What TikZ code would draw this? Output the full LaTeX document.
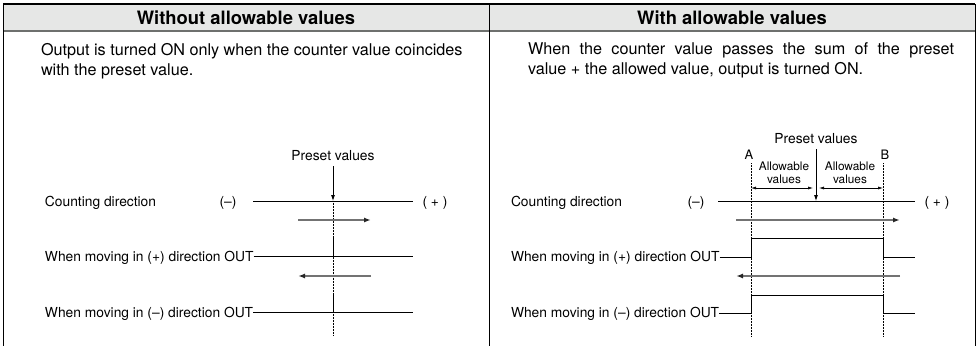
\documentclass[tikz,border=0pt]{standalone}
\usepackage{fontspec}
\setmainfont{TeX Gyre Heros}
\usetikzlibrary{positioning,arrows.meta}
\definecolor{headgray}{RGB}{230,231,230}
\definecolor{rulegray}{RGB}{110,112,110}
\definecolor{dirgray}{RGB}{115,115,115}

\begin{document}
\begin{tikzpicture}[x=1pt, y=-1pt,
  every node/.style={inner sep=0pt, outer sep=0pt, font=\fontsize{13.8}{16}\selectfont},
  headtxt/.style={font=\fontsize{18.4}{20}\selectfont\bfseries},
  bodytxt/.style={font=\fontsize{16.2}{20}\selectfont, anchor=north west, align=left},
  lbl/.style={anchor=west},
  allow/.style={font=\fontsize{11.8}{13}\selectfont, align=center},
  sig/.style={line width=0.9pt},
  dirarr/.style={draw=dirgray, line width=1.5pt, -{Latex[length=7pt,width=5pt,color=black!85]}},
  prearr/.style={line width=0.8pt, -{Latex[length=6pt,width=4pt]}},
  guide/.style={densely dotted, line width=0.5pt},
  dimarr/.style={line width=0.6pt, {Latex[length=5pt,width=3pt]}-{Latex[length=5pt,width=3pt]}}
]
\useasboundingbox (0,0) rectangle (978,346);

% =================== table ===================
\fill[headgray] (3,4) rectangle (975,31);
\draw[rulegray, line width=2pt] (3,31) -- (975,31);
\draw[line width=1.4pt] (3,4) -- (975,4);
\draw[line width=1pt] (3,4) -- (3,346) (489,4) -- (489,346) (975,4) -- (975,346);

\node[headtxt] (headL) at (246,18) {Without allowable values};
\node[headtxt] (headR) at (732,18) {With allowable values};

\node[bodytxt] (bodyL) at (41,43)
  {Output is turned ON only when the counter value coincides\\with the preset value.};
\node[bodytxt] (bodyR) at (528,43)
  {\makebox[426pt][s]{When the counter value passes the sum of the preset}\\value + the allowed value, output is turned ON.};

% =================== without allowable values ===================
\node (preL) at (333,156) {Preset values};
\coordinate (pL) at (333,201);
\coordinate (cLs) at (253,201);
\coordinate (cLe) at (413,201);
\node[lbl] (cntL) at (45,203) {Counting direction};
\node (minL) at (228,203) {(–)};
\node (plusL) at (435,203) {( + )};
\draw[sig] (cLs) -- (cLe);
\draw[prearr] ([yshift=-5pt]preL.south) -- (pL);
\draw[guide] (pL) -- (333,335);

\coordinate (fwdLa) at (298,220);
\coordinate (fwdLb) at (371,220);
\draw[dirarr] (fwdLa) -- (fwdLb);

\node[lbl] (outPL) at (45,258) {When moving in (+) direction OUT};
\coordinate (oPLe) at (413,256);
\draw[sig] (outPL.east |- oPLe) -- (oPLe);
\draw[sig] (333,256) -- (333,238);

\coordinate (bwdLa) at (371,276);
\coordinate (bwdLb) at (298,276);
\draw[dirarr] (bwdLa) -- (bwdLb);

\node[lbl] (outML) at (45,314) {When moving in (–) direction OUT};
\coordinate (oMLe) at (413,312);
\draw[sig] (outML.east |- oMLe) -- (oMLe);
\draw[sig] (333,312) -- (333,294);

% =================== with allowable values ===================
\node (preR) at (816,139) {Preset values};
\node[font=\fontsize{13}{13}\selectfont] (ptA) at (749,155) {A};
\node[font=\fontsize{13}{13}\selectfont] (ptB) at (885,155) {B};
\node[allow] (allowL) at (784,173) {Allowable\\values};
\node[allow] (allowR) at (850,173) {Allowable\\values};
\coordinate (pR) at (816,201);
\coordinate (dA) at (751,188);
\coordinate (dB) at (883,188);
\draw[guide] (751,163) -- (751,337);
\draw[guide] (883,163) -- (883,337);
\draw[dimarr] (dA) -- (813,188);
\draw[dimarr] (819,188) -- (dB);

\coordinate (cRs) at (718,201);
\coordinate (cRe) at (915,201);
\node[lbl] (cntR) at (511,203) {Counting direction};
\node (minR) at (696,203) {(–)};
\node (plusR) at (937,203) {( + )};
\draw[sig] (cRs) -- (cRe);
\draw[prearr] ([yshift=-5pt]preR.south) -- (pR);

\coordinate (fwdRa) at (736,220);
\coordinate (fwdRb) at (900,220);
\draw[dirarr] (fwdRa) -- (fwdRb);

\node[lbl] (outPR) at (511,258) {When moving in (+) direction OUT};
\coordinate (oPRa) at (751,257);
\coordinate (oPRb) at (883,257);
\coordinate (oPRe) at (915,257);
\draw[sig] (outPR.east |- oPRa) -- (oPRa) -- ++(0,-19) -| (oPRb) -- (oPRe);

\coordinate (bwdRa) at (900,276);
\coordinate (bwdRb) at (736,276);
\draw[dirarr] (bwdRa) -- (bwdRb);

\node[lbl] (outMR) at (511,314) {When moving in (–) direction OUT};
\coordinate (oMRa) at (751,313);
\coordinate (oMRb) at (883,313);
\coordinate (oMRe) at (915,313);
\draw[sig] (outMR.east |- oMRa) -- (oMRa) -- ++(0,-18) -| (oMRb) -- (oMRe);

\end{tikzpicture}
\end{document}
